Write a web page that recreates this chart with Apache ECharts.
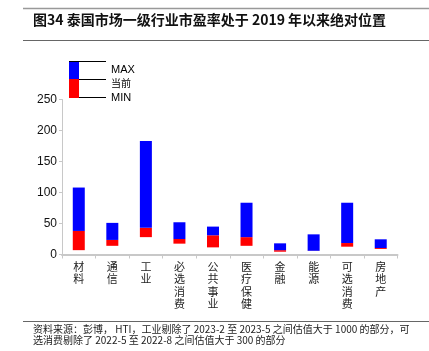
<!DOCTYPE html>
<html><head><meta charset="utf-8">
<script src="https://cdn.jsdelivr.net/npm/echarts@6/dist/echarts.min.js"></script>
<style>html,body{margin:0;padding:0;background:#fff}#c{width:429px;height:351px}</style>
</head><body><div id="c"></div>
<script>
const categories = ['材料','通信','工业','必选消费','公共事业','医疗保健','金融','能源','可选消费','房地产'];
const maxVals = [108, 51, 183, 52, 45, 83.5, 18, 32.5, 83.5, 24.5];
const curVals = [38, 23.5, 43, 25, 31, 28, 7, 6, 18.5, 10.5];
const minVals = [7, 14, 28, 17.5, 11.5, 14, 4.5, 5.6, 12.6, 9];
const yTicks = [0, 50, 100, 150, 200, 250];

const base = minVals;
const redPart = curVals.map((c, i) => +(c - minVals[i]).toFixed(2));
const bluePart = maxVals.map((m, i) => +(m - curVals[i]).toFixed(2));

const chart = echarts.init(document.getElementById('c'), null, {renderer: 'canvas'});
const cjk = '"Noto Sans CJK SC", sans-serif';
chart.setOption({
  animation: false,
  grid: {left: 62, right: 31.5, top: 99.5, bottom: 96.5, containLabel: false},
  xAxis: {
    type: 'category', data: categories, boundaryGap: true,
    axisLine: {lineStyle: {color: '#c8c8c8', width: 2}},
    axisTick: {show: true, length: 4, lineStyle: {color: '#c8c8c8'}},
    axisLabel: {
      interval: 0, margin: 6, color: '#222', fontSize: 11, fontFamily: cjk, lineHeight: 12.5,
      formatter: v => v.split('').join('\n')
    }
  },
  yAxis: {
    type: 'value', min: yTicks[0], max: yTicks[yTicks.length - 1], interval: 50,
    axisLine: {show: true, lineStyle: {color: '#c8c8c8', width: 1}},
    axisTick: {show: true, length: 3, lineStyle: {color: '#c8c8c8'}},
    splitLine: {show: false},
    axisLabel: {color: '#111', fontSize: 12, fontFamily: 'Liberation Sans, Arial', margin: 5}
  },
  series: [
    {type: 'bar', stack: 's', data: base, barWidth: 12, itemStyle: {color: 'transparent'}, silent: true},
    {type: 'bar', stack: 's', data: redPart, barWidth: 12, itemStyle: {color: '#ff0000'}},
    {type: 'bar', stack: 's', data: bluePart, barWidth: 12, itemStyle: {color: '#0000ff'}}
  ],
  graphic: [
    {type: 'line', shape: {x1: 23, y1: 8.5, x2: 429, y2: 8.5}, style: {stroke: '#999', lineWidth: 1.5}},
    {type: 'text', left: 33, top: 13, style: {text: '图34 泰国市场一级行业市盈率处于 2019 年以来绝对位置', font: 'bold 14px ' + cjk, fill: '#111'}},
    {type: 'line', shape: {x1: 23, y1: 40.5, x2: 429, y2: 40.5}, style: {stroke: '#666', lineWidth: 1.2}},
    {type: 'rect', shape: {x: 69, y: 61, width: 10, height: 18}, style: {fill: '#0000ff'}},
    {type: 'rect', shape: {x: 69, y: 79, width: 10, height: 19}, style: {fill: '#ff0000'}},
    {type: 'line', shape: {x1: 69, y1: 61.5, x2: 106, y2: 61.5}, style: {stroke: '#000', lineWidth: 1}},
    {type: 'line', shape: {x1: 79, y1: 79.5, x2: 106, y2: 79.5}, style: {stroke: '#000', lineWidth: 1}},
    {type: 'line', shape: {x1: 79, y1: 97.5, x2: 106, y2: 97.5}, style: {stroke: '#000', lineWidth: 1}},
    {type: 'text', left: 111, top: 64, style: {text: 'MAX', font: '11px "Liberation Sans", Arial', fill: '#000'}},
    {type: 'text', left: 111, top: 78, style: {text: '当前', font: '10px ' + cjk, fill: '#000'}},
    {type: 'text', left: 111, top: 92, style: {text: 'MIN', font: '11px "Liberation Sans", Arial', fill: '#000'}},
    {type: 'line', shape: {x1: 23, y1: 321.5, x2: 429, y2: 321.5}, style: {stroke: '#666', lineWidth: 1.2}},
    {type: 'text', left: 33, top: 324, style: {text: '资料来源：彭博， HTI，工业剔除了 2023-2 至 2023-5 之间估值大于 1000 的部分，可\n选消费剔除了 2022-5 至 2022-8 之间估值大于 300 的部分', font: '10px ' + cjk, fill: '#222', lineHeight: 10.5}}
  ]
});
</script></body></html>
